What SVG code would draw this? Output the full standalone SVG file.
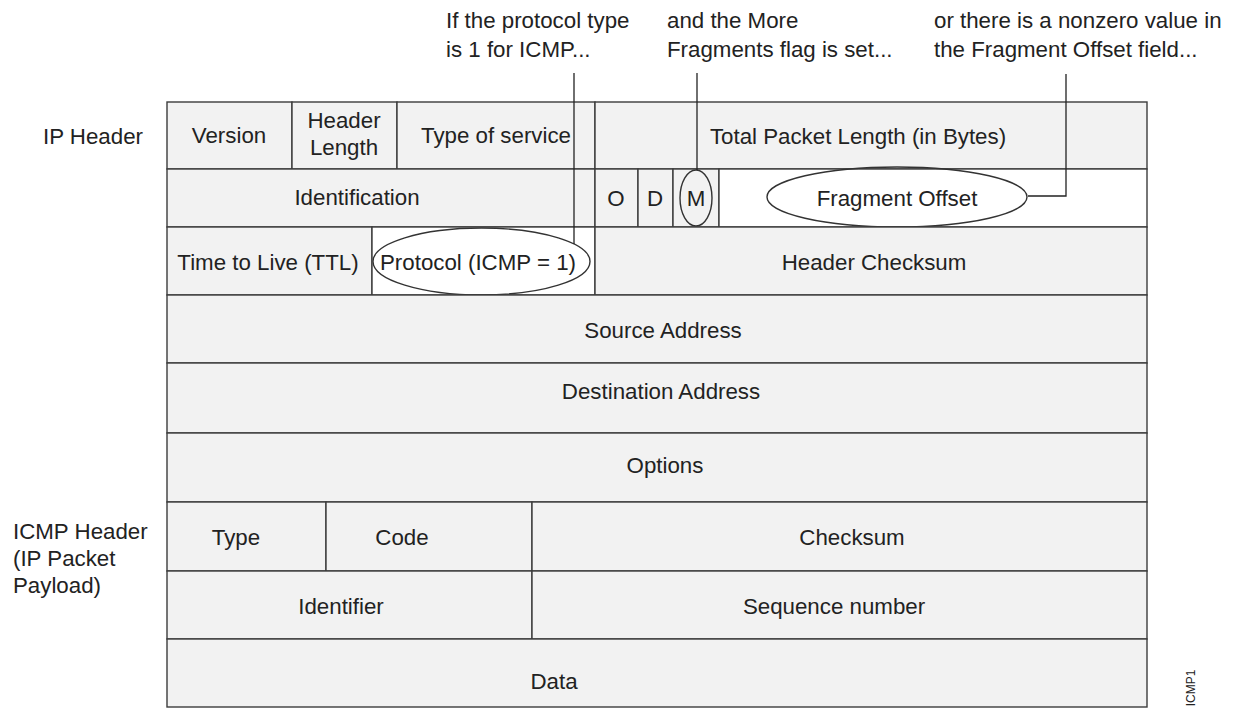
<svg xmlns="http://www.w3.org/2000/svg" width="1241" height="709" viewBox="0 0 1241 709">
<style>
text{font-family:"Liberation Sans",Arial,Helvetica,sans-serif;font-size:22.3px;fill:#222}
.c{text-anchor:middle}
.cell{fill:#f2f2f2;stroke:#3c3c3c;stroke-width:1.4}
.w{fill:#ffffff;stroke:#3c3c3c;stroke-width:1.4}
.ov{fill:none;stroke:#333;stroke-width:1.4}
.ld{fill:none;stroke:#222;stroke-width:1.3}
</style>
<rect width="1241" height="709" fill="#ffffff"/>
<g id="annotations">
<text x="446" y="28">If the protocol type</text>
<text x="446" y="57">is 1 for ICMP...</text>
<text x="667" y="28">and the More</text>
<text x="667" y="57">Fragments flag is set...</text>
<text x="934" y="28">or there is a nonzero value in</text>
<text x="934" y="57">the Fragment Offset field...</text>
</g>
<g id="labels">
<text x="43" y="144">IP Header</text>
<text x="13" y="539">ICMP Header</text>
<text x="13" y="566">(IP Packet</text>
<text x="13" y="593">Payload)</text>
<text transform="translate(1195,688) rotate(-90)" class="c" style="font-size:12px">ICMP1</text>
</g>
<g id="version"><rect class="cell" x="167" y="102" width="125" height="67"/><text class="c" x="229" y="143">Version</text></g>
<g id="header-length"><rect class="cell" x="292" y="102" width="105" height="67"/><text class="c" x="344" y="128">Header</text><text class="c" x="344" y="155">Length</text></g>
<g id="type-of-service"><rect class="cell" x="397" y="102" width="198" height="67"/><text class="c" x="496" y="143">Type of service</text></g>
<g id="total-length"><rect class="cell" x="595" y="102" width="552" height="67"/><text class="c" x="858" y="144">Total Packet Length (in Bytes)</text></g>
<g id="identification"><rect class="cell" x="167" y="169" width="428" height="58"/><text class="c" x="357" y="205">Identification</text></g>
<g id="flag-o"><rect class="cell" x="595" y="169" width="43" height="58"/><text class="c" x="616" y="206">O</text></g>
<g id="flag-d"><rect class="cell" x="638" y="169" width="35" height="58"/><text class="c" x="655" y="206">D</text></g>
<g id="flag-m"><rect class="cell" x="673" y="169" width="46" height="58"/><ellipse class="ov" cx="696" cy="198" rx="16" ry="28"/><text class="c" x="696" y="206">M</text></g>
<g id="fragment-offset"><rect class="w" x="719" y="169" width="428" height="58"/><ellipse class="ov" cx="897" cy="197" rx="130" ry="30"/><text class="c" x="897" y="206">Fragment Offset</text></g>
<g id="ttl"><rect class="cell" x="167" y="227" width="205" height="68"/><text class="c" x="268" y="270">Time to Live (TTL)</text></g>
<g id="protocol"><rect class="w" x="372" y="227" width="223" height="68"/><ellipse class="ov" cx="481.5" cy="261.5" rx="108.5" ry="33.5"/><text class="c" x="478" y="270">Protocol (ICMP = 1)</text></g>
<g id="header-checksum"><rect class="cell" x="595" y="227" width="552" height="68"/><text class="c" x="874" y="270">Header Checksum</text></g>
<g id="source"><rect class="cell" x="167" y="295" width="980" height="68"/><text class="c" x="663" y="338">Source Address</text></g>
<g id="destination"><rect class="cell" x="167" y="363" width="980" height="70"/><text class="c" x="661" y="399">Destination Address</text></g>
<g id="options"><rect class="cell" x="167" y="433" width="980" height="69"/><text class="c" x="665" y="473">Options</text></g>
<g id="type"><rect class="cell" x="167" y="502" width="159" height="69"/><text class="c" x="236" y="545">Type</text></g>
<g id="code"><rect class="cell" x="326" y="502" width="206" height="69"/><text class="c" x="402" y="545">Code</text></g>
<g id="checksum"><rect class="cell" x="532" y="502" width="615" height="69"/><text class="c" x="852" y="545">Checksum</text></g>
<g id="identifier"><rect class="cell" x="167" y="571" width="365" height="68"/><text class="c" x="341" y="614">Identifier</text></g>
<g id="sequence"><rect class="cell" x="532" y="571" width="615" height="68"/><text class="c" x="834" y="614">Sequence number</text></g>
<g id="data"><rect class="cell" x="167" y="639" width="980" height="68"/><text class="c" x="554" y="689">Data</text></g>
<g id="connectors">
<path class="ld" d="M574 73 V244"/>
<path class="ld" d="M697 73 V170"/>
<path class="ld" d="M1066 74 V196 H1028"/>
</g>
</svg>
